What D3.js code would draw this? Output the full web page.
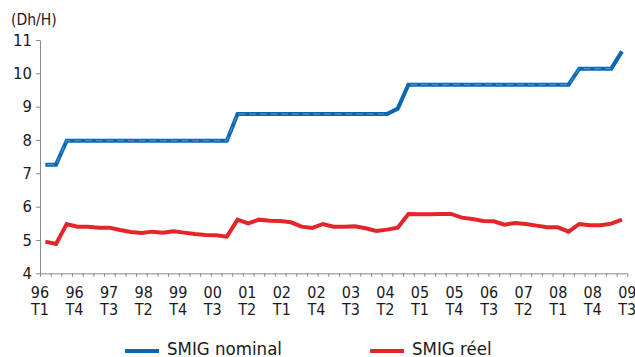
<!DOCTYPE html>
<html>
<head>
<meta charset="utf-8">
<script src="https://cdn.jsdelivr.net/npm/d3@7"></script>
<style>
  body { margin: 0; background: #fff; }
  svg text { font-family: "DejaVu Sans Condensed", "Liberation Sans Narrow", "DejaVu Sans", sans-serif; font-stretch: condensed; fill: #1a1a1a; }
</style>
</head>
<body>
<div id="chart"></div>
<script>
// quarters 96T1 .. 09T3
var quarters = [
  "96T1","96T2","96T3","96T4","97T1","97T2","97T3","97T4","98T1","98T2","98T3","98T4",
  "99T1","99T2","99T3","99T4","00T1","00T2","00T3","00T4","01T1","01T2","01T3","01T4",
  "02T1","02T2","02T3","02T4","03T1","03T2","03T3","03T4","04T1","04T2","04T3","04T4",
  "05T1","05T2","05T3","05T4","06T1","06T2","06T3","06T4","07T1","07T2","07T3","07T4",
  "08T1","08T2","08T3","08T4","09T1","09T2","09T3"
];
var smigNominal = [
  7.26, 7.26, 7.98, 7.98, 7.98, 7.98, 7.98, 7.98, 7.98, 7.98, 7.98, 7.98,
  7.98, 7.98, 7.98, 7.98, 7.98, 7.98, 8.78, 8.78, 8.78, 8.78, 8.78, 8.78,
  8.78, 8.78, 8.78, 8.78, 8.78, 8.78, 8.78, 8.78, 8.78, 8.94, 9.66, 9.66,
  9.66, 9.66, 9.66, 9.66, 9.66, 9.66, 9.66, 9.66, 9.66, 9.66, 9.66, 9.66,
  9.66, 9.66, 10.14, 10.14, 10.14, 10.14, 10.66
];
var smigReel = [
  4.95, 4.88, 5.48, 5.40, 5.40, 5.37, 5.37, 5.30, 5.24, 5.21, 5.25, 5.22,
  5.26, 5.22, 5.18, 5.15, 5.14, 5.10, 5.61, 5.50, 5.61, 5.58, 5.57, 5.53,
  5.40, 5.36, 5.48, 5.40, 5.40, 5.41, 5.35, 5.27, 5.31, 5.37, 5.78, 5.77,
  5.77, 5.78, 5.78, 5.67, 5.63, 5.57, 5.56, 5.46, 5.51, 5.48, 5.43, 5.38,
  5.38, 5.25, 5.48, 5.44, 5.44, 5.49, 5.61
];
var tickLabels = [
  ["96","T1"],["96","T4"],["97","T3"],["98","T2"],["99","T4"],["00","T3"],
  ["01","T2"],["02","T1"],["02","T4"],["03","T3"],["04","T2"],["05","T1"],
  ["05","T4"],["06","T3"],["07","T2"],["08","T1"],["08","T4"],["09","T3"]
];
var yTicks = [4, 5, 6, 7, 8, 9, 10, 11];
var series = [
  { name: "SMIG nominal", values: smigNominal, color: "#0a68b2" },
  { name: "SMIG réel", values: smigReel, color: "#e4262b" }
];

var width = 635, height = 357;
var plotL = 40, plotR = 627.3, plotT = 40, plotB = 273.3;

var svg = d3.select("#chart").append("svg")
    .attr("width", width)
    .attr("height", height);

var x = d3.scaleBand().domain(quarters).range([plotL, plotR]).paddingInner(0).paddingOuter(0);
var xEdge = d3.scaleLinear().domain([0, quarters.length]).range([plotL, plotR]);
var xLab = d3.scalePoint().domain(d3.range(tickLabels.length)).range([plotL, plotR]);
var y = d3.scaleLinear().domain([4, 11]).range([plotB, plotT]);

// y axis
var yAxis = d3.axisLeft(y).tickValues(yTicks).tickFormat(d3.format("d"))
    .tickSize(4).tickSizeOuter(0).tickPadding(4);
var gy = svg.append("g")
    .attr("transform", "translate(" + plotL + ",0)")
    .call(yAxis);
gy.attr("font-family", null).attr("font-size", null);
gy.select(".domain").attr("stroke", "#8a8a8a");
gy.selectAll(".tick line").attr("stroke", "#8a8a8a");
gy.selectAll(".tick text").attr("font-size", 16.5).attr("fill", "#1a1a1a");

// x axis ticks between quarters
var xAxis = d3.axisBottom(xEdge).tickValues(d3.range(quarters.length + 1))
    .tickSize(3.5).tickSizeOuter(0).tickFormat("");
var gx = svg.append("g")
    .attr("transform", "translate(0," + plotB + ")")
    .call(xAxis);
gx.select(".domain").attr("stroke", "#8a8a8a");
gx.selectAll(".tick line").attr("stroke", "#8a8a8a");

// two-line x labels
var labG = svg.append("g");
tickLabels.forEach(function (d, i) {
    var t = labG.append("text")
        .attr("x", xLab(i))
        .attr("text-anchor", "middle")
        .attr("font-size", 16);
    t.append("tspan").attr("x", xLab(i)).attr("y", 297.5).text(d[0]);
    t.append("tspan").attr("x", xLab(i)).attr("y", 315).text(d[1]);
});

// unit
svg.append("text")
    .attr("x", 11)
    .attr("y", 24.5)
    .attr("font-size", 15.5)
    .text("(Dh/H)");

// lines
var line = d3.line()
    .x(function (d, i) { return x(quarters[i]) + x.bandwidth() / 2; })
    .y(function (d) { return y(d); });

series.forEach(function (s) {
    svg.append("path")
        .datum(s.values)
        .attr("fill", "none")
        .attr("stroke", s.color)
        .attr("stroke-width", 4)
        .attr("stroke-linejoin", "miter")
        .attr("d", line);
});

// faint lighter stripe seen on flat parts of the nominal line
var flat = d3.line()
    .defined(function (d, i) {
        return smigNominal[i - 1] === d || smigNominal[i + 1] === d;
    })
    .x(function (d, i) { return x(quarters[i]) + x.bandwidth() / 2; })
    .y(function (d) { return y(d); });
svg.append("path")
    .datum(smigNominal)
    .attr("fill", "none")
    .attr("stroke", "#5a9ad0")
    .attr("stroke-width", 1)
    .attr("stroke-dasharray", "6.7,4")
    .attr("stroke-dashoffset", -2)
    .attr("d", flat);

// legend
var legX = [125, 370];
series.forEach(function (s, i) {
    var g = svg.append("g").attr("transform", "translate(" + legX[i] + ",351)");
    g.append("line")
        .attr("x1", 0).attr("x2", 34)
        .attr("y1", 0).attr("y2", 0)
        .attr("stroke", s.color)
        .attr("stroke-width", 4);
    g.append("text")
        .attr("x", 42)
        .attr("y", 3.5)
        .attr("font-size", 18.5)
        .text(s.name);
});
</script>
</body>
</html>
